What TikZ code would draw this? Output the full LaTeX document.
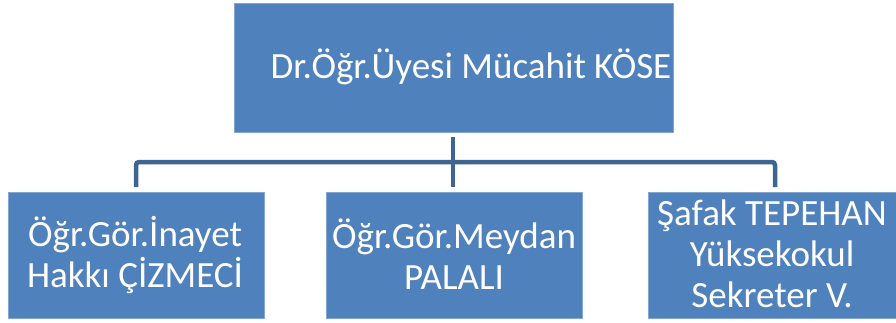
\documentclass[tikz,border=0pt]{standalone}
\usepackage{fontspec}
\setmainfont{Carlito}
\definecolor{boxblue}{RGB}{79,129,189}
\definecolor{linkblue}{RGB}{62,100,146}
\begin{document}
\begin{tikzpicture}[x=1pt,y=-1pt,
  orgbox/.style={fill=boxblue, draw=boxblue!70!white, line width=0.6pt},
  orgtext/.style={text=white, font=\fontsize{37}{41}\selectfont, align=center, inner sep=0pt},
  link/.style={draw=linkblue, line width=4.5pt, rounded corners=3pt}]
\useasboundingbox (0,0) rectangle (896,322);
% boxes
\path[orgbox] (234,3) rectangle (673,132);
\path[orgbox] (8,192) rectangle (264,318);
\path[orgbox] (326,192) rectangle (582,318);
\path[orgbox] (648,192) rectangle (896,318);
% texts
\node[orgtext] (top) at (471,67) {Dr.Öğr.Üyesi Mücahit KÖSE};
\node[orgtext] (left) at (135,255) {Öğr.Gör.İnayet\\Hakkı ÇİZMECİ};
\node[orgtext] (mid) at (454,254) {Öğr.Gör.Meydan\\PALALI};
\node[orgtext] (right) at (772,254) {Şafak TEPEHAN\\Yüksekokul\\Sekreter V.};
% connectors
\coordinate (t) at (453,137);
\coordinate (j) at (453,162);
\coordinate (l) at (136,187);
\coordinate (m) at (453,187);
\coordinate (r) at (775,187);
\draw[link] (t) -- (m);
\draw[link] (l) |- (j) -| (r);
\end{tikzpicture}
\end{document}
